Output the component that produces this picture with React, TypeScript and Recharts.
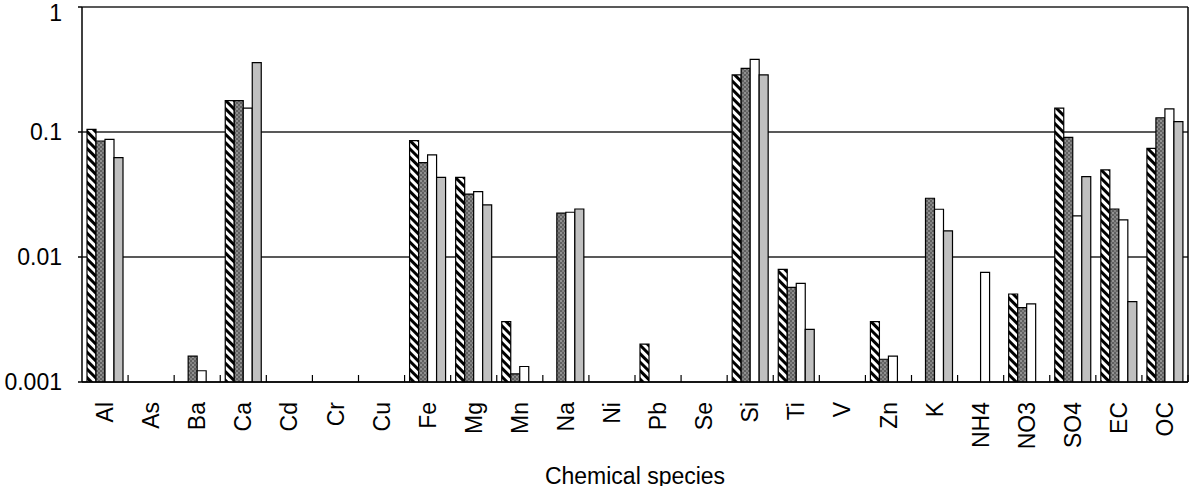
import { Bar, BarChart, CartesianGrid, Rectangle, XAxis, YAxis } from 'recharts';

const species = [
    'Al', 'As', 'Ba', 'Ca', 'Cd', 'Cr', 'Cu', 'Fe', 'Mg', 'Mn', 'Na', 'Ni',
    'Pb', 'Se', 'Si', 'Ti', 'V', 'Zn', 'K', 'NH4', 'NO3', 'SO4', 'EC', 'OC',
];

// fraction of mass, one entry per species (null = not shown)
const hatched = [
    0.105, null, null, 0.178, null, null, null, 0.0852, 0.0434, 0.00304, null, null,
    0.00201, null, 0.286, 0.00797, null, 0.00304, null, null, 0.00506, 0.155, 0.0497, 0.074,
];
const dotted = [
    0.0847, null, 0.00161, 0.178, null, null, null, 0.0568, 0.0319, 0.00116, 0.0224, null,
    null, null, 0.323, 0.00572, null, 0.00152, 0.0295, null, 0.00393, 0.0906, 0.0242, 0.13,
];
const white = [
    0.0874, null, 0.00123, 0.155, null, null, null, 0.0655, 0.0333, 0.00133, 0.0228, null,
    null, null, 0.381, 0.00616, null, 0.00161, 0.0241, 0.00754, 0.00421, 0.0213, 0.0198, 0.153,
];
const grey = [
    0.0623, null, null, 0.359, null, null, null, 0.0434, 0.0261, null, 0.0242, null,
    null, null, 0.286, 0.00264, null, null, 0.0162, null, null, 0.0439, 0.00439, 0.121,
];

const yTicks = [0.001, 0.01, 0.1, 1];

const FONT = '"Liberation Sans", Arial, sans-serif';
const X_TICK_MARGIN = 20;

const rows = species.map((name, i) => ({
    name,
    hatched: hatched[i],
    dotted: dotted[i],
    white: white[i],
    grey: grey[i],
}));

// skip empty cells, log scale can't draw them
function barShape(key: string) {
    return (props: any) => {
        if (props.payload?.[key] == null) return <g />;
        return <Rectangle {...props} />;
    };
}

function SpeciesTick(props: any) {
    const { x, y, payload } = props;
    const half = payload?.offset ?? 23;
    const axisY = y - X_TICK_MARGIN;
    return (
        <g>
            <line x1={x + half} x2={x + half} y1={axisY} y2={axisY - 7} stroke="#000" strokeWidth={1.2} />
            <text
                x={x}
                y={y}
                dy="0.35em"
                textAnchor="end"
                transform={`rotate(-90, ${x}, ${y})`}
                fill="#000"
                fontSize={23}
                fontFamily={FONT}
            >
                {payload.value}
            </text>
        </g>
    );
}

export default function App() {
    return (
        <div style={{ position: 'absolute', left: 0, top: 0, width: 1197, height: 486, background: '#fff' }}>
            <BarChart
                width={1197}
                height={486}
                data={rows}
                margin={{ top: 7, right: 8, bottom: 0, left: 0 }}
                barGap={0}
                barCategoryGap={5}
            >
                <defs>
                    <pattern id="hatch" width={6} height={6} patternUnits="userSpaceOnUse" patternTransform="rotate(45)">
                        <rect x={0} y={0} width={6} height={6} fill="#fff" />
                        <rect x={0} y={0} width={6} height={3} fill="#000" />
                    </pattern>
                    <pattern id="dots" width={4} height={4} patternUnits="userSpaceOnUse">
                        <rect x={0} y={0} width={4} height={4} fill="#606060" />
                        <circle cx={1} cy={1} r={0.7} fill="#e8e8e8" />
                        <circle cx={3} cy={3} r={0.7} fill="#bdbdbd" />
                    </pattern>
                </defs>
                <CartesianGrid vertical={false} stroke="#222" strokeWidth={1.5} />
                <XAxis
                    dataKey="name"
                    height={104}
                    interval={0}
                    tickSize={0}
                    tickMargin={X_TICK_MARGIN}
                    tick={<SpeciesTick />}
                    stroke="#000"
                    strokeWidth={1.5}
                    label={{
                        value: 'Chemical species',
                        position: 'insideBottom',
                        offset: 2,
                        fill: '#000',
                        fontSize: 23,
                        fontFamily: FONT,
                    }}
                />
                <YAxis
                    scale="log"
                    domain={[0.001, 1]}
                    ticks={yTicks}
                    allowDataOverflow
                    width={82}
                    tickSize={4}
                    tickMargin={16}
                    stroke="#000"
                    strokeWidth={1.5}
                    tick={{ fill: '#000', fontSize: 23, fontFamily: FONT }}
                />
                <YAxis yAxisId="frame" orientation="right" width={1} tick={false} tickLine={false} stroke="#000" strokeWidth={1.5} />
                <Bar dataKey="hatched" fill="url(#hatch)" stroke="#000" strokeWidth={1.2} shape={barShape('hatched')} isAnimationActive={false} />
                <Bar dataKey="dotted" fill="url(#dots)" stroke="#000" strokeWidth={1.2} shape={barShape('dotted')} isAnimationActive={false} />
                <Bar dataKey="white" fill="#fff" stroke="#000" strokeWidth={1.2} shape={barShape('white')} isAnimationActive={false} />
                <Bar dataKey="grey" fill="#c0c0c0" stroke="#000" strokeWidth={1.2} shape={barShape('grey')} isAnimationActive={false} />
            </BarChart>
        </div>
    );
}
